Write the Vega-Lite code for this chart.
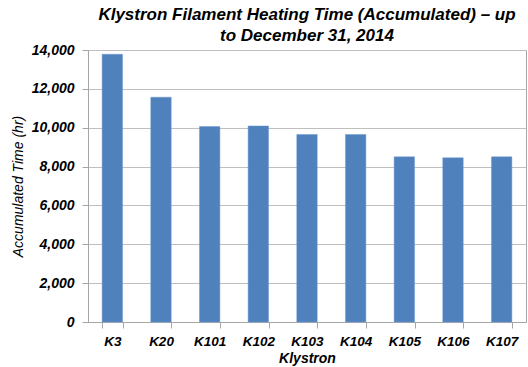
{
  "$schema": "https://vega.github.io/schema/vega-lite/v6.json",
  "width": 438,
  "height": 272,
  "autosize": "none",
  "padding": {"left": 88, "top": 50, "right": 2, "bottom": 45},
  "title": {
    "text": ["Klystron Filament Heating Time (Accumulated) – up", "to December 31, 2014"],
    "font": "Liberation Sans",
    "fontSize": 17,
    "fontWeight": "bold",
    "fontStyle": "italic",
    "color": "#000000",
    "lineHeight": 21,
    "offset": -2,
    "anchor": "middle"
  },
  "data": {
    "values": [
      {"k": "K3", "v": 13780},
      {"k": "K20", "v": 11570},
      {"k": "K101", "v": 10060},
      {"k": "K102", "v": 10090},
      {"k": "K103", "v": 9650},
      {"k": "K104", "v": 9650},
      {"k": "K105", "v": 8500},
      {"k": "K106", "v": 8450},
      {"k": "K107", "v": 8500}
    ]
  },
  "config": {
    "view": {"stroke": "#A6A6A6", "strokeWidth": 1},
    "axis": {
      "labelFont": "Liberation Sans",
      "labelFontWeight": "bold",
      "labelFontStyle": "italic",
      "labelFontSize": 13.5,
      "labelColor": "#000000",
      "titleFont": "Liberation Sans",
      "titleFontStyle": "italic",
      "titleFontSize": 14,
      "titleColor": "#000000",
      "domainColor": "#A6A6A6",
      "tickColor": "#A6A6A6",
      "gridColor": "#BFBFBF"
    }
  },
  "mark": {"type": "bar", "color": "#4F81BD", "stroke": "#6E9BD0", "strokeWidth": 0.5},
  "encoding": {
    "x": {
      "field": "k",
      "type": "nominal",
      "sort": null,
      "scale": {"paddingInner": 0.58, "paddingOuter": 0.29},
      "axis": {
        "title": "Klystron",
        "titleFontWeight": "bold",
        "titlePadding": 4,
        "labelAngle": 0,
        "labelPadding": 6,
        "tickBand": "extent",
        "tickSize": 6,
        "grid": false
      }
    },
    "y": {
      "field": "v",
      "type": "quantitative",
      "scale": {"domain": [0, 14000], "nice": false},
      "axis": {
        "title": "Accumulated Time (hr)",
        "titleFontWeight": "normal",
        "titlePadding": 6,
        "values": [0, 2000, 4000, 6000, 8000, 10000, 12000, 14000],
        "format": ",d",
        "labelFontSize": 14,
        "tickSize": 6,
        "labelPadding": 8,
        "grid": true
      }
    }
  }
}
